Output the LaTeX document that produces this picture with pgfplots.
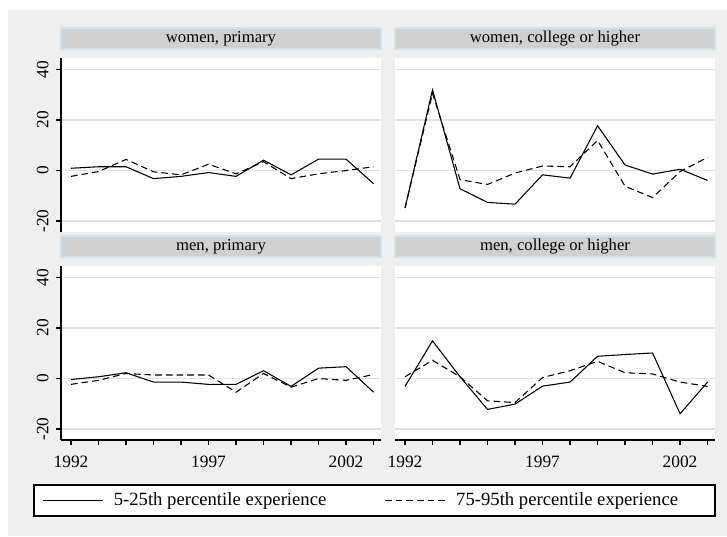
\documentclass[border=0pt]{standalone}
\usepackage{fontspec}
\setmainfont{Liberation Serif}
\usepackage{pgfplots}
\usepackage{pgfplotstable}
\pgfplotsset{compat=1.18}

\definecolor{bggray}{RGB}{239,239,239}
\definecolor{stripgray}{RGB}{208,208,208}
\definecolor{stripblue}{RGB}{212,226,236}
\definecolor{gridgray}{RGB}{228,228,228}

% columns: year, 5-25th (s), 75-95th (d)
\pgfplotstableread{
year s d
1992 0.9 -2.3
1993 1.5 -0.4
1994 1.5 4.4
1995 -3.2 -0.5
1996 -2.3 -1.7
1997 -0.8 2.5
1998 -2.3 -1.3
1999 4.1 3.5
2000 -1.7 -3.2
2001 4.5 -1.3
2002 4.5 0.0
2003 -5.2 1.5
}\womenprim
\pgfplotstableread{
year s d
1992 -14.8 -14.8
1993 31.9 30.5
1994 -7.2 -3.6
1995 -12.6 -5.5
1996 -13.3 -1.0
1997 -1.7 1.8
1998 -3.0 1.5
1999 17.7 11.9
2000 2.2 -6.2
2001 -1.4 -10.7
2002 0.5 -0.4
2003 -3.9 5.2
}\womencoll
\pgfplotstableread{
year s d
1992 -0.4 -2.3
1993 0.7 -0.7
1994 2.3 2.0
1995 -1.4 1.4
1996 -1.4 1.4
1997 -2.3 1.4
1998 -2.3 -5.4
1999 3.1 2.0
2000 -3.1 -3.4
2001 4.1 0.0
2002 4.7 -0.7
2003 -5.4 1.6
}\menprim
\pgfplotstableread{
year s d
1992 -3.1 0.7
1993 14.9 7.2
1994 0.7 0.7
1995 -12.2 -8.8
1996 -10.1 -9.5
1997 -3.0 0.4
1998 -1.4 3.1
1999 8.8 6.8
2000 9.5 2.3
2001 10.1 1.8
2002 -13.9 -1.4
2003 -1.4 -3.1
}\mencoll

\pgfplotsset{
  panel/.style={
    scale only axis, width=240pt, height=130.5pt,
    anchor=south west,
    xmin=1991.636, xmax=2003.27, ymin=-24.3, ymax=44.5,
    axis x line*=bottom, axis y line*=left,
    axis line style={line width=1.3pt},
    axis background/.style={fill=white},
    tick align=outside, major tick length=3.75pt,
    tick style={line width=1.1pt, black},
    ytick={-20,0,20,40}, yticklabels={-20,0,20,40},
    xtick={1992,...,2003}, xticklabels={1992,,,,,1997,,,,,2002,},
    ymajorgrids, grid style={gridgray, line width=1.2pt},
    tick label style={font=\fontsize{13}{13}\selectfont},
    yticklabel style={rotate=90, anchor=south},
    yticklabel shift=2pt, xticklabel shift=4.5pt,
    title style={at={(0.5,1)}, anchor=south, fill=stripgray, draw=stripblue,
      line width=1.2pt, minimum width=240pt, minimum height=15.75pt,
      inner sep=0pt, font=\fontsize{12.5}{12.5}\selectfont},
    clip=false,
  },
  notop/.style={x axis line style={draw=none}, xtick style={draw=none}, xticklabels={}},
  noleft/.style={y axis line style={draw=none}, ytick style={draw=none}, yticklabels={}},
  sline/.style={black, line width=0.8pt},
  dline/.style={black, line width=0.8pt, dash pattern=on 5pt off 3pt},
}

\begin{document}
\begin{tikzpicture}
\fill[white] (0,0) rectangle (545.25pt,402pt);
\fill[bggray] (6pt,0) rectangle (545.25pt,394.5pt);

\begin{axis}[panel, notop, at={(45.75pt,228pt)}, title={women, primary}]
\addplot[sline] table[x=year, y=s] {\womenprim};
\addplot[dline] table[x=year, y=d] {\womenprim};
\end{axis}

\begin{axis}[panel, notop, noleft, at={(296.25pt,228pt)}, title={women, college or higher}]
\addplot[sline] table[x=year, y=s] {\womencoll};
\addplot[dline] table[x=year, y=d] {\womencoll};
\end{axis}

\begin{axis}[panel, at={(45.75pt,72pt)}, title={men, primary},
  legend columns=2, legend cell align=left,
  legend image code/.code={\draw[#1] (0pt,0pt) -- (45pt,0pt);},
  legend style={at={(0.9797,-0.3477)}, anchor=center, draw=black,
    line width=1.5pt, fill=white, inner xsep=6pt, inner ysep=4pt,
    font=\fontsize{14}{14}\selectfont, column sep=0pt}]
\addplot[sline] table[x=year, y=s] {\menprim};
\addlegendentry{\hspace{6pt}\makebox[201pt][l]{5-25th percentile experience}}
\addplot[dline] table[x=year, y=d] {\menprim};
\addlegendentry{\hspace{6pt}\makebox[186pt][l]{75-95th percentile experience}}
\end{axis}

\begin{axis}[panel, noleft, at={(296.25pt,72pt)}, title={men, college or higher}]
\addplot[sline] table[x=year, y=s] {\mencoll};
\addplot[dline] table[x=year, y=d] {\mencoll};
\end{axis}
\end{tikzpicture}
\end{document}
